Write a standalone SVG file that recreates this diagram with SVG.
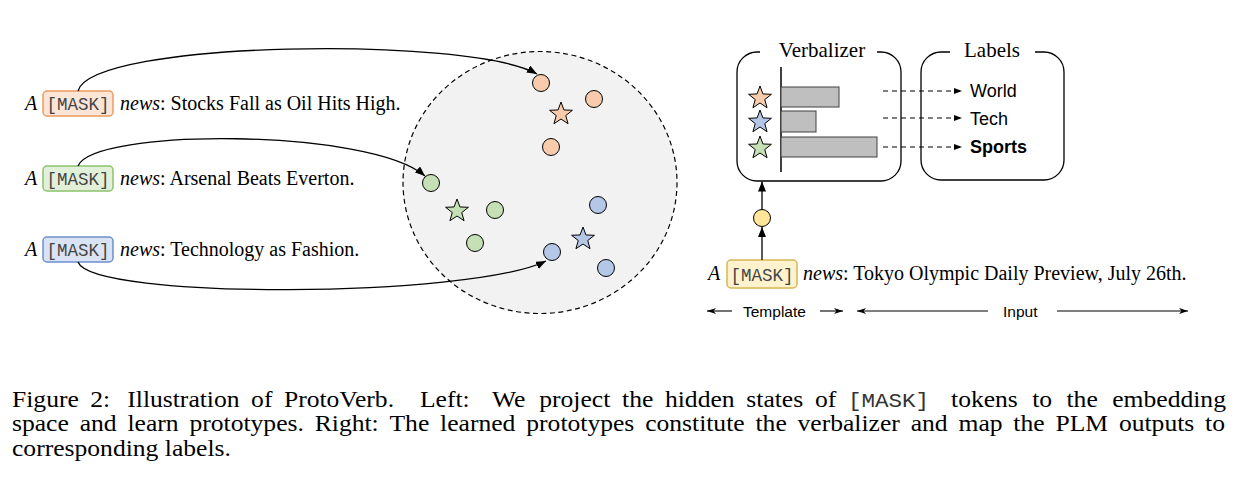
<svg xmlns="http://www.w3.org/2000/svg" width="1238" height="488" viewBox="0 0 1238 488">
<style>
.t{font-family:"Liberation Serif","Times New Roman",serif;font-size:20px;fill:#000}
.i{font-style:italic}
.m{font-family:"Liberation Mono","Courier New",monospace;font-size:17.5px;fill:#444;text-anchor:middle}
.s{font-family:"Liberation Sans",Arial,sans-serif;fill:#000}
.ttl{font-family:"Liberation Serif","Times New Roman",serif;font-size:21px;fill:#000;text-anchor:middle}
.cap{font-family:"Liberation Serif","Times New Roman",serif;font-size:23.5px;fill:#000}
.capm{font-family:"Liberation Mono","Courier New",monospace;font-size:20.7px;fill:#333}
.pt{stroke:#000;stroke-width:1}
.or{fill:#f8cbad}.gr{fill:#c5e0b4}.bl{fill:#b4c7e7}.ye{fill:#ffe699}
.mk{stroke-width:1.5}
.ln{fill:none;stroke:#000;stroke-width:1.3}
.dl{fill:none;stroke:#000;stroke-width:1.2;stroke-dasharray:5 4}
.th{fill:none;stroke:#000;stroke-width:1.1}
.bar{fill:#bfbfbf;stroke:#404040;stroke-width:1}
.frame{fill:none;stroke:#000;stroke-width:1.3}
</style>
<defs>
<marker id="ah" viewBox="0 0 10 8" refX="10" refY="4" markerWidth="10" markerHeight="8" markerUnits="userSpaceOnUse" orient="auto"><path d="M0,0 L10,4 L0,8 z" fill="#000"/></marker>
<marker id="ahs" viewBox="0 0 8 6" refX="8" refY="3" markerWidth="8" markerHeight="6" markerUnits="userSpaceOnUse" orient="auto"><path d="M0,0 L8,3 L0,6 z" fill="#000"/></marker>
<marker id="ahl" viewBox="0 0 9 7" refX="9" refY="3.5" markerWidth="9" markerHeight="7" markerUnits="userSpaceOnUse" orient="auto"><path d="M0,0.5 L9,3.5 L0,6.5 L2.5,3.5 z" fill="#000"/></marker>
<path id="star" d="M0,-12 L2.94,-4.05 L11.41,-3.71 L4.76,1.55 L7.05,9.71 L0,5 L-7.05,9.71 L-4.76,1.55 L-11.41,-3.71 L-2.94,-4.05 Z" stroke="#000" stroke-width="1" stroke-linejoin="miter"/>
</defs>

<g id="embedding-space">
<ellipse cx="540" cy="182.5" rx="137" ry="131" fill="#f2f2f2" stroke="#000" stroke-width="1.2" stroke-dasharray="5 3.5"/>
</g>

<g id="sent1">
<text class="t i" x="25" y="110">A</text>
<rect class="mk" x="43" y="91" width="70" height="25" rx="4" fill="#fbe5d6" stroke="#ed9b5e"/>
<text class="m" x="78" y="110">[MASK]</text>
<text class="t" x="120" y="110"><tspan class="i">news</tspan>: Stocks Fall as Oil Hits High.</text>
</g>
<g id="sent2">
<text class="t i" x="25" y="185">A</text>
<rect class="mk" x="43" y="166" width="70" height="25" rx="4" fill="#e2f0d9" stroke="#8cc26c"/>
<text class="m" x="78" y="185">[MASK]</text>
<text class="t" x="120" y="185"><tspan class="i">news</tspan>: Arsenal Beats Everton.</text>
</g>
<g id="sent3">
<text class="t i" x="25" y="256">A</text>
<rect class="mk" x="43" y="237" width="70" height="25" rx="4" fill="#dae3f3" stroke="#6d8fd0"/>
<text class="m" x="78" y="256">[MASK]</text>
<text class="t" x="120" y="256"><tspan class="i">news</tspan>: Technology as Fashion.</text>
</g>

<g id="points">
<circle class="pt or" cx="541" cy="83" r="8.5"/>
<circle class="pt or" cx="594" cy="99" r="8.5"/>
<circle class="pt or" cx="551" cy="147" r="8.5"/>
<use href="#star" x="561" y="114" class="or"/>
<circle class="pt gr" cx="431" cy="183" r="8.5"/>
<circle class="pt gr" cx="495" cy="210" r="8.5"/>
<circle class="pt gr" cx="475" cy="243" r="8.5"/>
<use href="#star" x="457" y="211" class="gr"/>
<circle class="pt bl" cx="598" cy="205" r="8.5"/>
<circle class="pt bl" cx="552" cy="252" r="8.5"/>
<circle class="pt bl" cx="606" cy="268" r="8.5"/>
<use href="#star" x="583" y="239" class="bl"/>
</g>

<g id="verbalizer">
<path class="frame" d="M877,52 H881 A20,20 0 0 1 901,72 V161 A20,20 0 0 1 881,181 H757 A20,20 0 0 1 737,161 V72 A20,20 0 0 1 757,52 H760"/>
<text class="ttl" x="822" y="57">Verbalizer</text>
<line x1="781" y1="67" x2="781" y2="172" stroke="#000" stroke-width="1.5"/>
<rect class="bar" x="781" y="87" width="58" height="20"/>
<rect class="bar" x="781" y="111" width="35" height="21"/>
<rect class="bar" x="781" y="137" width="96" height="20"/>
<use href="#star" x="760" y="98" class="or"/>
<use href="#star" x="760" y="122" class="bl"/>
<use href="#star" x="760" y="148" class="gr"/>
</g>

<g id="labels">
<path class="frame" d="M1035,52 H1044 A20,20 0 0 1 1064,72 V160 A20,20 0 0 1 1044,180 H941 A20,20 0 0 1 921,160 V72 A20,20 0 0 1 941,52 H950"/>
<text class="ttl" x="992" y="57">Labels</text>
<text class="s" x="970" y="97" font-size="18">World</text>
<text class="s" x="970" y="125" font-size="18">Tech</text>
<text class="s" x="970" y="153" font-size="18" font-weight="bold">Sports</text>
</g>

<g id="mask-output">
<circle class="pt ye" cx="762" cy="218" r="8.5"/>
</g>

<g id="input-sentence">
<text class="t i" x="708" y="280">A</text>
<rect class="mk" x="727" y="260" width="70" height="28" rx="4" fill="#fff2cc" stroke="#d6b656"/>
<text class="m" x="762" y="281">[MASK]</text>
<text class="t" x="803" y="280"><tspan class="i">news</tspan>: Tokyo Olympic Daily Preview, July 26th.</text>
</g>

<g id="spans">
<text class="s" x="743" y="317" font-size="15.5">Template</text>
<text class="s" x="1003" y="317" font-size="15.5">Input</text>
</g>

<g id="connectors">
<path class="ln" d="M78,91 C92,40 470,36 537,74" marker-end="url(#ah)"/>
<path class="ln" d="M78,166 C92,128 370,128 425,176" marker-end="url(#ah)"/>
<path class="ln" d="M78,262 C92,300 470,298 546,261" marker-end="url(#ah)"/>
<line class="ln" x1="762" y1="260" x2="762" y2="227" marker-end="url(#ah)"/>
<line class="ln" x1="762" y1="209.5" x2="762" y2="181.5" marker-end="url(#ah)"/>
<line class="dl" x1="883" y1="91" x2="962" y2="91" marker-end="url(#ahs)"/>
<line class="dl" x1="883" y1="118" x2="962" y2="118" marker-end="url(#ahs)"/>
<line class="dl" x1="883" y1="147" x2="962" y2="147" marker-end="url(#ahs)"/>
<line class="th" x1="732" y1="311" x2="707" y2="311" marker-end="url(#ahl)"/>
<line class="th" x1="820" y1="311" x2="843" y2="311" marker-end="url(#ahl)"/>
<line class="th" x1="988" y1="311" x2="857" y2="311" marker-end="url(#ahl)"/>
<line class="th" x1="1057" y1="311" x2="1188" y2="311" marker-end="url(#ahl)"/>
</g>

<g id="caption" transform="matrix(1.08936 0 0 1 -1.0723 0)">
<text class="cap" y="407"><tspan x="12">Figure </tspan><tspan x="83.9">2: </tspan><tspan x="117.8">Illustration </tspan><tspan x="231.5">of </tspan><tspan x="261.6">ProtoVerb. </tspan><tspan x="386.5">Left: </tspan><tspan x="452.6">We </tspan><tspan x="496">project </tspan><tspan x="572">the </tspan><tspan x="611.4">hidden </tspan><tspan x="686.1">states </tspan><tspan x="749.1">of </tspan><tspan x="779.4" class="capm">[MASK] </tspan><tspan x="874">tokens </tspan><tspan x="948.5">to </tspan><tspan x="980">the </tspan><tspan x="1022">embedding</tspan></text>
<text class="cap" y="431.5"><tspan x="12">space </tspan><tspan x="74.1">and </tspan><tspan x="118">learn </tspan><tspan x="174.9">prototypes. </tspan><tspan x="289.9">Right: </tspan><tspan x="358.5">The </tspan><tspan x="405">learned </tspan><tspan x="484.1">prototypes </tspan><tspan x="593.2">constitute </tspan><tspan x="694.5">the </tspan><tspan x="733.1">verbalizer </tspan><tspan x="837">and </tspan><tspan x="880.9">map </tspan><tspan x="931.2">the </tspan><tspan x="969.9">PLM </tspan><tspan x="1028.1">outputs </tspan><tspan x="1107.2">to</tspan></text>
<text class="cap" x="12" y="456">corresponding labels.</text>
</g>
</svg>
